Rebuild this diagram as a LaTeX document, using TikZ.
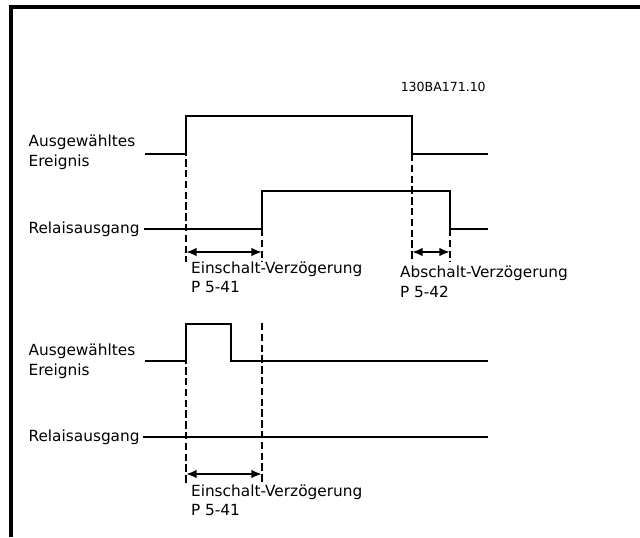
\documentclass[tikz,border=0pt]{standalone}
\usepackage{fontspec}
\setmainfont{DejaVu Sans}
\usetikzlibrary{arrows.meta}
\begin{document}
\begin{tikzpicture}[x=0.75pt,y=-0.75pt,
  frame/.style={line width=2.3pt},
  sig/.style={line width=1.25pt},
  guide/.style={line width=0.95pt, dash pattern=on 5.5pt off 2.6pt},
  delay/.style={line width=1.5pt, {Latex[length=8pt,width=6.5pt]}-{Latex[length=8pt,width=6.5pt]}},
  lbl/.style={font=\fontsize{11.5pt}{15pt}\selectfont, inner sep=0pt, anchor=base west},
  code/.style={font=\fontsize{9.4pt}{11pt}\selectfont, inner sep=0pt, anchor=base west}]
\useasboundingbox (0,0) rectangle (640,537);
\draw[frame] (640,7) -- (11,7) -- (11,537);

% ---------- labels
\node[code] (id) at (400.5,91.7) {130BA171.10};
\node[lbl] (evA1) at (28.3,146.7) {Ausgewähltes};
\node[lbl] (evB1) at (28.3,166.7) {Ereignis};
\node[lbl] (rel1) at (28.3,233.8) {Relaisausgang};
\node[lbl] (on1)  at (190.8,273) {Einschalt-Verzögerung};
\node[lbl] (onP1) at (190.8,292.7) {P 5-41};
\node[lbl] (off1) at (399.8,277) {Abschalt-Verzögerung};
\node[lbl] (offP1) at (399.8,297) {P 5-42};

\node[lbl] (evA2) at (28.3,355.7) {Ausgewähltes};
\node[lbl] (evB2) at (28.3,375.5) {Ereignis};
\node[lbl] (rel2) at (28.3,441) {Relaisausgang};
\node[lbl] (on2)  at (190.8,496) {Einschalt-Verzögerung};
\node[lbl] (onP2) at (190.8,515.7) {P 5-41};

% ---------- top panel coordinates
\coordinate (e1s) at (145,154);
\coordinate (e1r0) at (186,154);
\coordinate (e1r1) at (186,116);
\coordinate (e1f1) at (412,116);
\coordinate (e1f0) at (412,154);
\coordinate (e1e) at (488,154);
\coordinate (r1s) at (143.5,229);
\coordinate (r1r0) at (262,229);
\coordinate (r1r1) at (262,191);
\coordinate (r1f1) at (450,191);
\coordinate (r1f0) at (450,229);
\coordinate (r1e) at (488,229);
\coordinate (g1a) at (186,262);
\coordinate (g1b) at (262,262);
\coordinate (g1c) at (412,262);
\coordinate (g1d) at (450,262);
\coordinate (a1a) at (186,252);
\coordinate (a1b) at (262,252);
\coordinate (a1c) at (412,252);
\coordinate (a1d) at (450,252);

\draw[sig] (e1s) -- (e1r0) -- (e1r1) -- (e1f1) -- (e1f0) -- (e1e);
\draw[sig] (r1s) -- (r1r0) -- (r1r1) -- (r1f1) -- (r1f0) -- (r1e);
\draw[guide] (e1r1) -- (g1a);
\draw[guide] (r1r0) -- (g1b);
\draw[guide] (e1f0) -- (g1c);
\draw[guide] (r1f0) -- (g1d);
\draw[delay] (a1a) -- (a1b);
\draw[delay] (a1c) -- (a1d);

% ---------- bottom panel coordinates
\coordinate (e2s) at (145,361);
\coordinate (e2r0) at (186,361);
\coordinate (e2r1) at (186,324);
\coordinate (e2f1) at (231,324);
\coordinate (e2f0) at (231,361);
\coordinate (e2e) at (488,361);
\coordinate (r2s) at (142.5,436.7);
\coordinate (r2e) at (488,436.7);
\coordinate (g2top) at (262,323);
\coordinate (g2a) at (186,483);
\coordinate (g2b) at (262,483);
\coordinate (a2a) at (186,474);
\coordinate (a2b) at (262,474);

\draw[sig] (e2s) -- (e2r0) -- (e2r1) -- (e2f1) -- (e2f0) -- (e2e);
\draw[sig] (r2s) -- (r2e);
\draw[guide] (e2r1) -- (g2a);
\draw[guide] (g2top) -- (g2b);
\draw[delay] (a2a) -- (a2b);
\end{tikzpicture}
\end{document}
